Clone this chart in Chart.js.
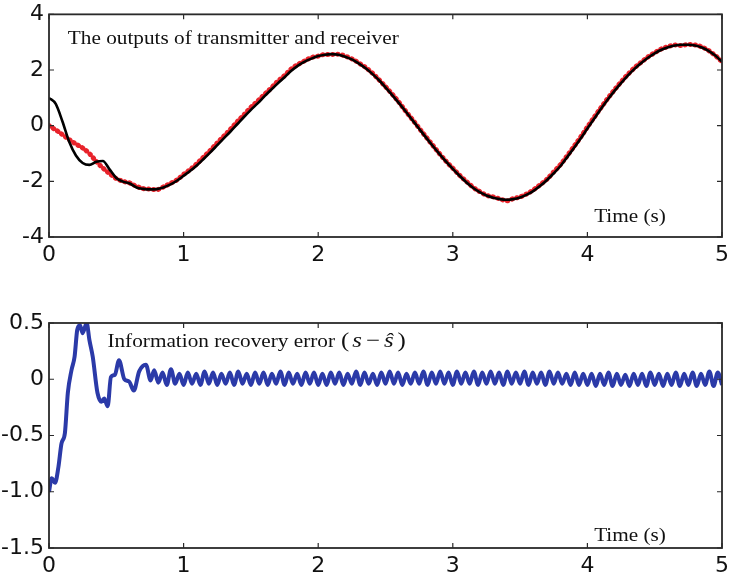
<!DOCTYPE html>
<html>
<head>
<meta charset="utf-8">
<script src="https://cdn.jsdelivr.net/npm/chart.js@4/dist/chart.umd.min.js"></script>
<style>
  html, body { margin: 0; padding: 0; background: #ffffff; }
  #wrap { position: relative; width: 738px; height: 584px; overflow: hidden; background: #fff; }
  #c1 { position: absolute; left: 0; top: 0; }
  #c2 { position: absolute; left: 0; top: 290px; }
</style>
</head>
<body>
<div id="wrap">
  <canvas id="c1" width="738" height="290"></canvas>
  <canvas id="c2" width="738" height="294"></canvas>
</div>
<script>
// ---- time grid of the output signals (s) ----
const outTime = [
  0.00,0.05,0.10,0.15,0.20,0.25,0.30,0.35,0.40,0.45,
  0.50,0.55,0.60,0.65,0.70,0.75,0.80,0.85,0.90,0.95,
  1.00,1.05,1.10,1.15,1.20,1.25,1.30,1.35,1.40,1.45,
  1.50,1.55,1.60,1.65,1.70,1.75,1.80,1.85,1.90,1.95,
  2.00,2.05,2.10,2.15,2.20,2.25,2.30,2.35,2.40,2.45,
  2.50,2.55,2.60,2.65,2.70,2.75,2.80,2.85,2.90,2.95,
  3.00,3.05,3.10,3.15,3.20,3.25,3.30,3.35,3.40,3.45,
  3.50,3.55,3.60,3.65,3.70,3.75,3.80,3.85,3.90,3.95,
  4.00,4.05,4.10,4.15,4.20,4.25,4.30,4.35,4.40,4.45,
  4.50,4.55,4.60,4.65,4.70,4.75,4.80,4.85,4.90,4.95,
  5.00
];

// receiver output (solid black)
const receiverOut = [
  1.00,0.78,0.15,-0.58,-1.07,-1.34,-1.41,-1.30,-1.27,-1.57,
  -1.88,-2.01,-2.08,-2.22,-2.27,-2.29,-2.28,-2.22,-2.12,-1.98,
  -1.80,-1.62,-1.42,-1.19,-0.95,-0.70,-0.45,-0.20,0.06,0.32,
  0.57,0.80,1.05,1.29,1.52,1.74,1.97,2.16,2.30,2.41,
  2.50,2.55,2.57,2.55,2.48,2.38,2.24,2.07,1.87,1.64,
  1.38,1.10,0.81,0.51,0.20,-0.11,-0.42,-0.72,-1.01,-1.29,
  -1.55,-1.80,-2.03,-2.23,-2.39,-2.51,-2.59,-2.64,-2.66,-2.64,
  -2.58,-2.48,-2.34,-2.16,-1.95,-1.71,-1.45,-1.13,-0.80,-0.46,
  -0.10,0.25,0.60,0.93,1.24,1.53,1.80,2.04,2.25,2.44,
  2.60,2.73,2.82,2.88,2.91,2.91,2.88,2.81,2.69,2.52,
  2.30
];

// transmitter output (red dots)
const transmitterOut = [
  0.00,-0.15,-0.32,-0.50,-0.66,-0.80,-1.00,-1.28,-1.52,-1.72,
  -1.90,-2.00,-2.06,-2.18,-2.26,-2.28,-2.30,-2.20,-2.08,-1.95,
  -1.75,-1.57,-1.36,-1.12,-0.88,-0.62,-0.37,-0.12,0.15,0.40,
  0.66,0.88,1.12,1.35,1.60,1.80,2.04,2.20,2.33,2.45,
  2.50,2.56,2.56,2.57,2.50,2.40,2.26,2.10,1.90,1.66,
  1.40,1.13,0.84,0.52,0.22,-0.09,-0.40,-0.70,-1.00,-1.28,
  -1.53,-1.78,-2.00,-2.21,-2.37,-2.50,-2.56,-2.63,-2.70,-2.62,
  -2.56,-2.45,-2.30,-2.12,-1.92,-1.66,-1.40,-1.08,-0.75,-0.41,
  -0.05,0.30,0.64,0.97,1.28,1.57,1.84,2.08,2.28,2.47,
  2.62,2.76,2.84,2.90,2.88,2.92,2.90,2.83,2.70,2.52,
  2.30
];

// recovery error: start-up transient (explicit times) ...
const errHeadTime = [
  0.000,0.020,0.045,0.070,0.093,0.118,0.140,0.167,0.190,0.210,
  0.230,0.250,0.280,0.300,0.325,0.360,0.390,0.410,0.436,0.460,
  0.490,0.520,0.560,0.595,0.630,0.670,0.720,0.755
];
const errHeadValue = [
  -1.00,-0.88,-0.92,-0.78,-0.57,-0.48,-0.12,0.08,0.20,0.44,
  0.48,0.41,0.50,0.35,0.20,-0.12,-0.20,-0.17,-0.24,0.02,
  0.04,0.17,0.00,-0.02,-0.10,0.07,0.13,-0.01
];
// ... then the steady ripple, sampled every half ripple period
const errTailStart = 0.78125;
const errTailStep = 0.03125;
const errTailValue = [
  0.08,-0.03,0.06,-0.05,0.09,-0.04,0.05,-0.05,
  0.06,-0.04,0.05,-0.05,0.07,-0.04,0.06,-0.05,0.05,-0.04,0.06,-0.05,0.07,-0.04,0.05,-0.05,
  0.06,-0.04,0.06,-0.05,0.05,-0.04,0.07,-0.05,0.06,-0.04,0.05,-0.05,0.06,-0.04,0.06,-0.05,
  0.05,-0.05,0.06,-0.04,0.06,-0.05,0.05,-0.04,0.07,-0.05,0.06,-0.04,0.05,-0.05,0.06,-0.04,
  0.07,-0.04,0.06,-0.05,0.05,-0.04,0.06,-0.04,0.07,-0.05,0.06,-0.04,0.07,-0.04,0.06,-0.05,
  0.07,-0.04,0.06,-0.04,0.07,-0.05,0.06,-0.04,0.07,-0.04,0.06,-0.05,0.07,-0.04,0.06,-0.04,
  0.07,-0.05,0.06,-0.04,0.06,-0.05,0.07,-0.04,0.06,-0.04,0.05,-0.05,0.06,-0.05,0.05,-0.05,
  0.05,-0.06,0.05,-0.05,0.06,-0.06,0.05,-0.05,0.04,-0.06,0.05,-0.05,0.05,-0.06,0.06,-0.05,
  0.05,-0.06,0.05,-0.05,0.06,-0.06,0.05,-0.05,0.06,-0.06,0.05,-0.05,0.07,-0.06,0.06,-0.05
];

// axis ticks
const timeTicks = [0, 1, 2, 3, 4, 5];
const outTicks = [-4, -2, 0, 2, 4];
const errTicks = [-1.5, -1, -0.5, 0, 0.5];

// ---- build point lists ----
const receiverPts = outTime.map((t, i) => ({ x: t, y: receiverOut[i] }));
const transmitterPts = outTime.map((t, i) => ({ x: t, y: transmitterOut[i] }));
const errPts = errHeadTime.map((t, i) => ({ x: t, y: errHeadValue[i] }))
  .concat(errTailValue.map((v, i) => ({ x: errTailStart + i * errTailStep, y: v })));

const TICK_FONT = { family: 'DejaVu Sans', size: 22, lineHeight: 0.85 };
const INK = '#111111';
const FRAME = '#2a2a2a';

// frame around the plot area with inward ticks on all four sides
const framePlugin = {
  id: 'frame',
  afterDatasetsDraw(chart) {
    const { ctx, chartArea: a, scales } = chart;
    ctx.save();
    ctx.strokeStyle = FRAME;
    ctx.lineWidth = 1.8;
    ctx.strokeRect(a.left, a.top, a.right - a.left, a.bottom - a.top);
    ctx.lineWidth = 1.2;
    const len = 5;
    ctx.beginPath();
    scales.x.ticks.forEach(tk => {
      const px = scales.x.getPixelForValue(tk.value);
      ctx.moveTo(px, a.bottom); ctx.lineTo(px, a.bottom - len);
      ctx.moveTo(px, a.top); ctx.lineTo(px, a.top + len);
    });
    scales.y.ticks.forEach(tk => {
      const py = scales.y.getPixelForValue(tk.value);
      ctx.moveTo(a.left, py); ctx.lineTo(a.left + len, py);
      ctx.moveTo(a.right, py); ctx.lineTo(a.right - len, py);
    });
    ctx.stroke();
    ctx.restore();
  }
};

// serif captions placed in data coordinates; drawn slightly widened
const STRETCH = 1.18;
function drawPieces(chart, xVal, yVal, pieces) {
  const { ctx, scales } = chart;
  let x = scales.x.getPixelForValue(xVal);
  const y = scales.y.getPixelForValue(yVal);
  ctx.save();
  ctx.fillStyle = INK;
  ctx.textBaseline = 'alphabetic';
  ctx.textAlign = 'left';
  pieces.forEach(p => {
    ctx.font = p.font;
    x += (p.gap || 0);
    ctx.save();
    ctx.translate(x, y);
    ctx.scale(STRETCH, 1);
    ctx.fillText(p.text, 0, 0);
    ctx.restore();
    x += ctx.measureText(p.text).width * STRETCH;
  });
  ctx.restore();
}
const SERIF = '18px "Liberation Serif"';
const SERIF_IT = 'italic 21px "Liberation Serif"';
const SERIF_MATH = '21px "Liberation Serif"';

function captionPlugin(items) {
  return {
    id: 'captions',
    afterDraw(chart) {
      items.forEach(it => drawPieces(chart, it.x, it.y, it.pieces));
    }
  };
}

function baseScales(yMin, yMax, yTicks, xHeight) {
  return {
    x: {
      type: 'linear', min: 0, max: 5,
      afterBuildTicks: s => { s.ticks = timeTicks.map(v => ({ value: v })); },
      grid: { display: false, drawTicks: false },
      border: { display: false },
      ticks: { color: INK, font: TICK_FONT, padding: 9, maxRotation: 0, autoSkip: false },
      afterFit: s => { s.height = xHeight; }
    },
    y: {
      type: 'linear', min: yMin, max: yMax,
      afterBuildTicks: s => { s.ticks = yTicks.map(v => ({ value: v })); },
      grid: { display: false, drawTicks: false },
      border: { display: false },
      ticks: { color: INK, font: TICK_FONT, padding: 5, autoSkip: false },
      afterFit: s => { s.width = 49; }
    }
  };
}

const common = {
  responsive: false,
  animation: false,
  devicePixelRatio: 1,
  plugins: { legend: { display: false }, tooltip: { enabled: false } },
  elements: { point: { radius: 0 } }
};

// ---- upper panel: transmitter and receiver outputs ----
new Chart(document.getElementById('c1'), {
  type: 'line',
  data: {
    datasets: [
      {
        label: 'receiver', data: receiverPts,
        borderColor: '#000000', borderWidth: 2.6,
        cubicInterpolationMode: 'monotone', pointRadius: 0, order: 0
      },
      {
        label: 'transmitter', data: transmitterPts,
        borderColor: '#e8232b', borderWidth: 5,
        borderDash: [0.5, 4.5], borderCapStyle: 'round',
        cubicInterpolationMode: 'monotone', pointRadius: 0, order: 1
      }
    ]
  },
  options: Object.assign({}, common, {
    layout: { padding: { top: 10, right: 9, left: 0, bottom: 0 } },
    scales: baseScales(-4, 4, outTicks, 53)
  }),
  plugins: [framePlugin, captionPlugin([
    { x: 0.14, y: 2.92, pieces: [{ text: 'The outputs of transmitter and receiver', font: SERIF }] },
    { x: 4.05, y: -3.45, pieces: [{ text: 'Time (s)', font: SERIF }] }
  ])]
});

// ---- lower panel: information recovery error ----
new Chart(document.getElementById('c2'), {
  type: 'line',
  data: {
    datasets: [{
      label: 'error', data: errPts,
      borderColor: '#2b3aa8', borderWidth: 4,
      cubicInterpolationMode: 'monotone', pointRadius: 0
    }]
  },
  options: Object.assign({}, common, {
    layout: { padding: { top: 33, right: 9, left: 0, bottom: 0 } },
    scales: baseScales(-1.5, 0.5, errTicks, 36)
  }),
  plugins: [framePlugin, captionPlugin([
    { x: 0.434, y: 0.29, pieces: [
      { text: 'Information recovery error', font: SERIF },
      { text: '(', font: SERIF_MATH, gap: 6 },
      { text: 's', font: SERIF_IT, gap: 3 },
      { text: '\u2212', font: SERIF_MATH, gap: 4 },
      { text: '\u015D', font: SERIF_IT, gap: 4 },
      { text: ')', font: SERIF_MATH, gap: 4 }
    ] },
    { x: 4.05, y: -1.435, pieces: [{ text: 'Time (s)', font: SERIF }] }
  ])]
});
</script>
</body>
</html>
